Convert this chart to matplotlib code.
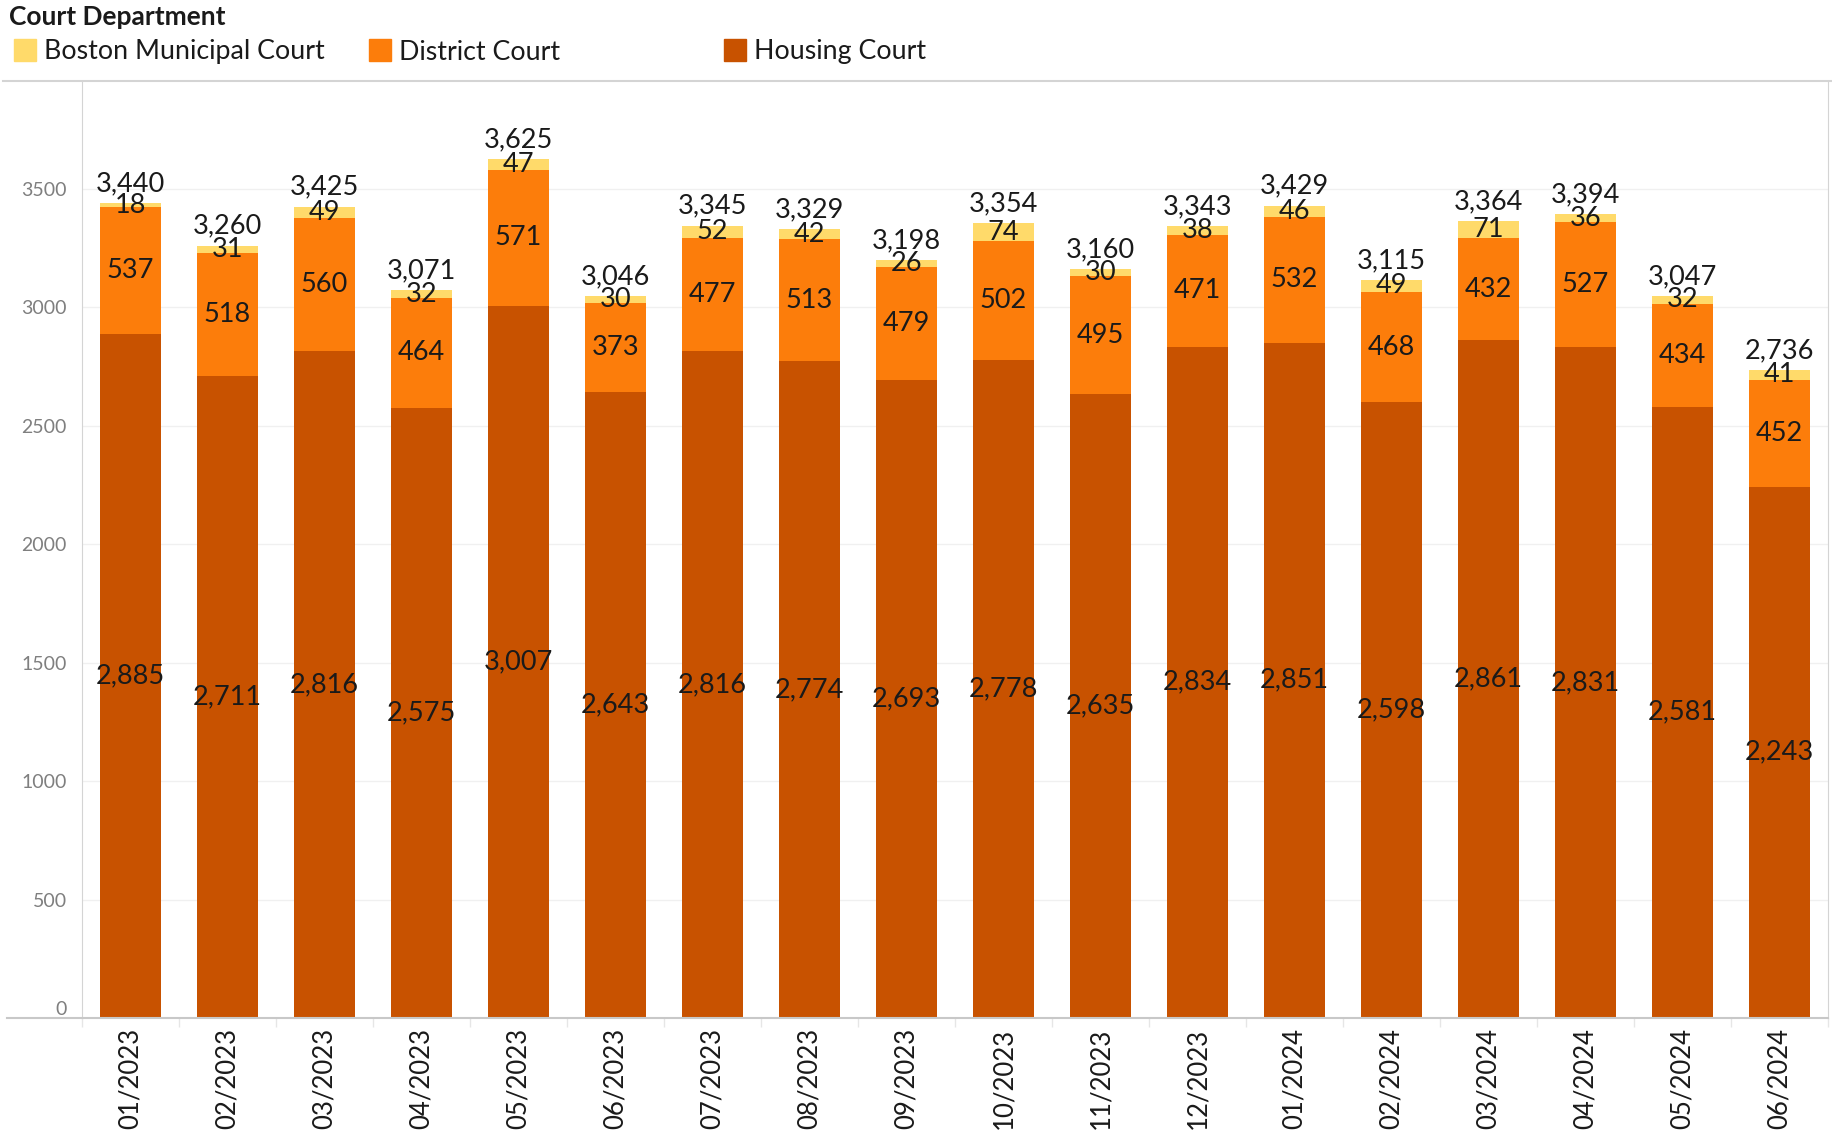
import numpy as np
import matplotlib
matplotlib.use("Agg")
import matplotlib.pyplot as plt
from matplotlib.patches import Rectangle
from matplotlib.lines import Line2D

plt.rcParams['font.family'] = ['Lato', 'DejaVu Sans']

# Data
months = ["01/2023", "02/2023", "03/2023", "04/2023", "05/2023", "06/2023",
          "07/2023", "08/2023", "09/2023", "10/2023", "11/2023", "12/2023",
          "01/2024", "02/2024", "03/2024", "04/2024", "05/2024", "06/2024"]
housing = [2885, 2711, 2816, 2575, 3007, 2643, 2816, 2774, 2693, 2778, 2635, 2834,
           2851, 2598, 2861, 2831, 2581, 2243]
district = [537, 518, 560, 464, 571, 373, 477, 513, 479, 502, 495, 471,
            532, 468, 432, 527, 434, 452]
boston = [18, 31, 49, 32, 47, 30, 52, 42, 26, 74, 30, 38,
          46, 49, 71, 36, 32, 41]
series_names = ["Boston Municipal Court", "District Court", "Housing Court"]
series_colors = ["#ffda6a", "#fc7d0b", "#c85200"]

W, H = 1832, 1135
fig = plt.figure(figsize=(W / 100, H / 100), dpi=100)
ax = fig.add_axes([82 / W, 1 - 1018 / H, (1828 - 82) / W, (1018 - 81) / H])

x = np.arange(len(months))
h = np.array(housing)
d = np.array(district)
b = np.array(boston)
tot = h + d + b
bw = 0.63

ax.bar(x, h, bw, color=series_colors[2], zorder=2)
ax.bar(x, d, bw, bottom=h, color=series_colors[1], zorder=2)
ax.bar(x, b, bw, bottom=h + d, color=series_colors[0], zorder=2)

fs = 19.5
for i in x:
    ax.text(i, h[i] / 2, f"{h[i]:,}", ha='center', va='center', fontsize=fs, color='#1a1a1a', zorder=3)
    ax.text(i, h[i] + d[i] / 2, f"{d[i]:,}", ha='center', va='center', fontsize=fs, color='#1a1a1a', zorder=3)
    ax.text(i, h[i] + d[i] + b[i] / 2, f"{b[i]:,}", ha='center', va='center', fontsize=fs, color='#1a1a1a', zorder=3)
    ax.annotate(f"{tot[i]:,}", (i, tot[i]), xytext=(0, 14), textcoords='offset points',
                ha='center', va='center', fontsize=fs, color='#1a1a1a', zorder=3)

ax.set_xlim(-0.5, len(months) - 0.5)
ax.set_ylim(0, 3955)
ax.set_yticks(np.arange(0, 3501, 500))
ax.set_yticklabels([str(v) for v in range(0, 3501, 500)])
ax.tick_params(axis='y', length=0, labelsize=14, labelcolor='#7f7f7f', pad=11)
for lab in ax.yaxis.get_ticklabels():
    lab.set_verticalalignment('center_baseline')
ax.yaxis.get_ticklabels()[0].set_verticalalignment('bottom')
ax.set_xticks(x)
ax.set_xticklabels(months, rotation=90, fontsize=18.5, color='#1a1a1a')
ax.tick_params(axis='x', which='major', length=0, pad=7)
ax.set_xticks(np.arange(-0.5, len(months), 1), minor=True)
ax.tick_params(axis='x', which='minor', length=6.5, width=1, color='#e6e6e6')
ax.grid(axis='y', color='#f0f0f0', linewidth=1, zorder=0)

for s in ['top', 'bottom']:
    ax.spines[s].set_visible(False)
ax.spines['left'].set_color('#d4d4d4')
ax.spines['right'].set_color('#d4d4d4')

# zero line and top border extending across the figure
fig.add_artist(Line2D([7 / W, 1828 / W], [1 - 1018 / H] * 2, color='#c8c8c8', lw=1.5))
fig.add_artist(Line2D([3 / W, 1], [1 - 81 / H] * 2, color='#d4d4d4', lw=1.5))

# legend
fig.text(9 / W, 1 - 17 / H, "Court Department", fontsize=19, fontweight='bold',
         va='center', ha='left', color='#1a1a1a')
leg_x = [14, 369, 724]
for xs, name, col in zip(leg_x, series_names, series_colors):
    fig.add_artist(Rectangle((xs / W, 1 - 61 / H), 22 / W, 22 / H, color=col,
                             transform=fig.transFigure))
    fig.text((xs + 30) / W, 1 - 52 / H, name, fontsize=19.3, va='center', ha='left',
             color='#1a1a1a')

fig.savefig("out.png", dpi=100)
